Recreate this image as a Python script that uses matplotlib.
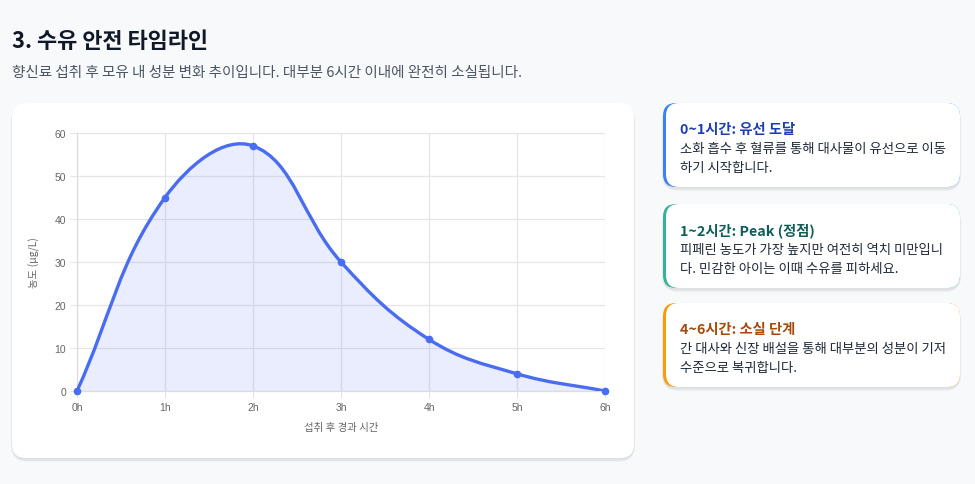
import numpy as np
import matplotlib
matplotlib.use("Agg")
import matplotlib.pyplot as plt
from matplotlib.patches import FancyBboxPatch, PathPatch
from matplotlib.path import Path

plt.rcParams['font.family'] = ['Noto Sans CJK KR', 'DejaVu Sans']

# data
hours = [0, 1, 2, 3, 4, 5, 6]
hour_labels = ['0h', '1h', '2h', '3h', '4h', '5h', '6h']
concentration = [0, 45, 57, 30, 12, 4, 0]
y_ticks = [0, 10, 20, 30, 40, 50, 60]

title = '3. 수유 안전 타임라인'
subtitle = '향신료 섭취 후 모유 내 성분 변화 추이입니다. 대부분 6시간 이내에 완전히 소실됩니다.'
x_label = '섭취 후 경과 시간'
y_label = '농도 (μg/L)'

card_titles = ['0~1시간: 유선 도달', '1~2시간: Peak (정점)', '4~6시간: 소실 단계']
card_bodies = [
    ['소화 흡수 후 혈류를 통해 대사물이 유선으로 이동', '하기 시작합니다.'],
    ['피페린 농도가 가장 높지만 여전히 역치 미만입니', '다. 민감한 아이는 이때 수유를 피하세요.'],
    ['간 대사와 신장 배설을 통해 대부분의 성분이 기저', '수준으로 복귀합니다.'],
]
card_border_colors = ['#3b82f6', '#34b39a', '#f59e0b']
card_title_colors = ['#1e40af', '#115e59', '#a34a0c']

line_color = '#4a6cf0'

W, H = 975, 485
fig = plt.figure(figsize=(W / 100, H / 100), dpi=100)
fig.patch.set_facecolor('#f8f9fb')

# background layer in pixel coordinates
bg = fig.add_axes([0, 0, 1, 1])
bg.set_xlim(0, W)
bg.set_ylim(H, 0)
bg.axis('off')


def card(x0, y0, x1, y1, r=12, border=None):
    # soft shadow
    for k, a in [(4, 0.025), (2.5, 0.035), (1.2, 0.04)]:
        bg.add_patch(FancyBboxPatch((x0 - k * 0.3, y0 + 1.5), x1 - x0 + k * 0.6, y1 - y0 + k * 0.7,
                                    boxstyle=f'round,pad=0,rounding_size={r + k}',
                                    fc='black', ec='none', alpha=a, zorder=1))
    if border:
        bg.add_patch(FancyBboxPatch((x0, y0), x1 - x0, y1 - y0,
                                    boxstyle=f'round,pad=0,rounding_size={r}',
                                    fc=border, ec='none', zorder=2))
        bg.add_patch(FancyBboxPatch((x0 + 3, y0), x1 - x0 - 3, y1 - y0,
                                    boxstyle=f'round,pad=0,rounding_size={r}',
                                    fc='white', ec='none', zorder=3))
    else:
        bg.add_patch(FancyBboxPatch((x0, y0), x1 - x0, y1 - y0,
                                    boxstyle=f'round,pad=0,rounding_size={r}',
                                    fc='white', ec='none', zorder=2))


bg.text(12, 42, title, fontsize=15.8, fontweight='bold', color='#111827', va='center', ha='left')
bg.text(12, 73, subtitle, fontsize=10.5, color='#4b5563', va='center', ha='left')

card(12, 104, 634, 459, r=14)

card_tops = [104, 205, 304]
for i in range(3):
    top = card_tops[i]
    card(663, top, 960, top + 84, r=13, border=card_border_colors[i])
    bg.text(680, top + 26, card_titles[i], fontsize=10.3, fontweight='bold',
            color=card_title_colors[i], va='center', ha='left', zorder=5)
    for j, line in enumerate(card_bodies[i]):
        bg.text(680, top + 45 + j * 19, line, fontsize=9.6, color='#1f2937',
                va='center', ha='left', zorder=5)

# chart area
px0, px1, py0, py1 = 77, 605, 134, 392
ax = fig.add_axes([px0 / W, (H - py1) / H, (px1 - px0) / W, (py1 - py0) / H])
ax.set_facecolor('none')
ax.set_xlim(0, 6)
ax.set_ylim(0, 60)

# Chart.js-like bezier curve (tension 0.4), computed in pixel space
sx = (px1 - px0) / 6
sy = (py1 - py0) / 60
xs = np.array(hours, float)
ys = np.array(concentration, float)
P = np.column_stack([xs * sx, ys * sy])
n = len(P)
t = 0.4
cp_prev = np.zeros_like(P)
cp_next = np.zeros_like(P)
for i in range(n):
    a = P[i - 1] if i > 0 else P[i]
    b = P[i]
    c = P[i + 1] if i < n - 1 else P[i]
    d01 = np.hypot(*(b - a))
    d12 = np.hypot(*(c - b))
    s01 = d01 / (d01 + d12) if d01 + d12 else 0
    s12 = d12 / (d01 + d12) if d01 + d12 else 0
    cp_prev[i] = b - t * s01 * (c - a)
    cp_next[i] = b + t * s12 * (c - a)

verts = [P[0]]
codes = [Path.MOVETO]
for i in range(n - 1):
    verts += [cp_next[i], cp_prev[i + 1], P[i + 1]]
    codes += [Path.CURVE4] * 3
verts = np.array(verts) / np.array([sx, sy])

curve = Path(verts, codes)
fill_verts = np.vstack([verts, [[xs[-1], 0], [xs[0], 0], [xs[0], 0]]])
fill_codes = codes + [Path.LINETO, Path.LINETO, Path.CLOSEPOLY]
ax.add_patch(PathPatch(Path(fill_verts, fill_codes), fc=line_color, ec='none', alpha=0.12, zorder=2))
ax.add_patch(PathPatch(curve, fc='none', ec=line_color, lw=2.4, zorder=3, capstyle='round'))
ax.plot(xs, ys, 'o', color=line_color, ms=4.5, zorder=4, clip_on=False)

ax.set_xticks(hours)
ax.set_xticklabels(hour_labels, family=['Liberation Sans', 'DejaVu Sans'])
ax.set_yticks(y_ticks)
ax.set_yticklabels([str(v) for v in y_ticks], family=['Liberation Sans', 'DejaVu Sans'])
ax.grid(True, color='#e6e6e6', lw=0.9)
ax.set_axisbelow(True)
for s in ['top', 'right']:
    ax.spines[s].set_visible(False)
for s in ['left', 'bottom']:
    ax.spines[s].set_color('#dddddd')
    ax.spines[s].set_linewidth(0.9)
ax.tick_params(colors='#666666', labelsize=7.5, length=5, color='#e6e6e6', pad=3)
ax.set_xlabel(x_label, fontsize=7.5, color='#666666', labelpad=7)
ax.set_ylabel(y_label, fontsize=7.5, color='#666666', labelpad=10)

fig.savefig('out.png', dpi=100, facecolor=fig.get_facecolor())
